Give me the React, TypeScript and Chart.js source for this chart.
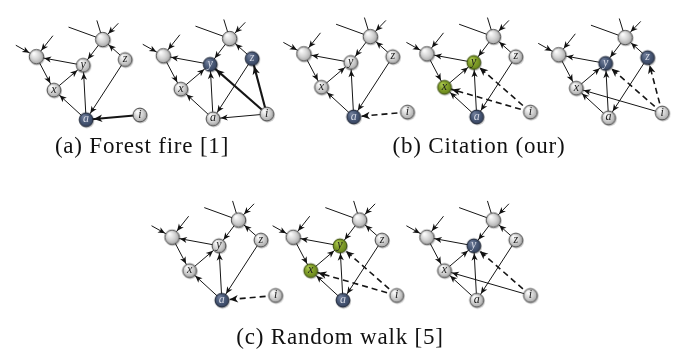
import React, { useEffect, useRef } from "react";
import { Chart, registerables } from "chart.js";

Chart.register(...registerables);

const W = 680;
const H = 356;

// ---- template graph (positions as drawn in panel (a), left copy) ----
const nodeNames = ["p", "q", "y", "z", "x", "a", "i"];
const nodeLabels = ["", "", "y", "z", "x", "a", "i"];
const nodeX = [29, 97, 77, 120, 47, 80, 135];
const nodeY = [51, 33, 60, 54, 86, 117, 112];

// dangling in-edges (start points without a node)
const stubX = [8, 46, 62, 91, 113];
const stubY = [39, 29, 20, 13, 16];
const stubTarget = ["p", "p", "q", "q", "q"];
const stubArrow = [true, true, false, false, true];

// edges shared by every copy
const baseFrom = ["y", "p", "x", "q", "z", "a", "a", "z"];
const baseTo = ["p", "x", "y", "y", "q", "x", "y", "a"];

// ---- the eight copies ----
const panelDX = [0, 130, 274, 400, 535, 139, 263, 400];
const panelDY = [0, -1, -3, -3, -2, 189, 189, 189];
const blueNodes = [["a"], ["y", "z"], ["a"], ["a"], ["y", "z"], ["a"], ["a"], ["y"]];
const greenNodes = [[], [], [], ["x", "y"], [], [], ["x", "y"], []];
// edges leaving the new node i
const extraTo = [["a"], ["a", "y", "z"], ["a"], ["x", "y"], ["x", "y", "z"], ["a"], ["x", "y"], ["x", "y"]];
const extraKind = [
  ["thick"],
  ["solid", "thick", "thick"],
  ["dash"],
  ["dash", "dash"],
  ["solid", "dash", "dash"],
  ["dash"],
  ["dash", "dash"],
  ["solid", "dash"],
];

// ---- captions ----
const captions = ["(a) Forest fire [1]", "(b) Citation (our)", "(c) Random walk [5]"];
const captionCX = [142, 479, 340];
const captionCY = [146, 146, 337];

function sphere(r: number, kind: string): HTMLCanvasElement {
  const s = Math.ceil(2 * r + 5);
  const c = document.createElement("canvas");
  c.width = s;
  c.height = s;
  const g = c.getContext("2d")!;
  const cx = s / 2;
  const cy = s / 2;
  g.beginPath();
  g.arc(cx + 0.8, cy + 1.1, r, 0, Math.PI * 2);
  g.fillStyle = "rgba(0,0,0,0.22)";
  g.fill();
  const grad = g.createRadialGradient(cx - r * 0.35, cy - r * 0.45, r * 0.1, cx, cy, r);
  let border = "#4a4a4a";
  if (kind === "blue") {
    grad.addColorStop(0, "#6f7c98");
    grad.addColorStop(0.55, "#4a5a78");
    grad.addColorStop(1, "#34415c");
    border = "#1e2636";
  } else if (kind === "green") {
    grad.addColorStop(0, "#a9c64e");
    grad.addColorStop(0.55, "#809d28");
    grad.addColorStop(1, "#62801a");
    border = "#3a4c0e";
  } else {
    grad.addColorStop(0, "#fbfbfb");
    grad.addColorStop(0.55, "#d2d2d2");
    grad.addColorStop(1, "#a2a2a2");
  }
  g.beginPath();
  g.arc(cx, cy, r - 0.5, 0, Math.PI * 2);
  g.fillStyle = grad;
  g.fill();
  g.lineWidth = 1;
  g.strokeStyle = border;
  g.stroke();
  return c;
}

const arrowPlugin = {
  id: "arrowHeads",
  afterDatasetsDraw(chart: any) {
    const ctx = chart.ctx;
    chart.data.datasets.forEach((ds: any, i: number) => {
      const meta = chart.getDatasetMeta(i);
      if (ds.arrowSize) {
        const p0 = meta.data[0];
        const p1 = meta.data[1];
        const dx = p1.x - p0.x;
        const dy = p1.y - p0.y;
        const len = Math.hypot(dx, dy);
        const ux = dx / len;
        const uy = dy / len;
        const tx = p1.x - ux * (ds.targetR + 0.3);
        const ty = p1.y - uy * (ds.targetR + 0.3);
        const L = ds.arrowSize;
        const w = L * 0.44;
        ctx.save();
        ctx.beginPath();
        ctx.moveTo(tx, ty);
        ctx.lineTo(tx - ux * L - uy * w, ty - uy * L + ux * w);
        ctx.lineTo(tx - ux * L * 0.72, ty - uy * L * 0.72);
        ctx.lineTo(tx - ux * L + uy * w, ty - uy * L - ux * w);
        ctx.closePath();
        ctx.fillStyle = "#111";
        ctx.fill();
        ctx.restore();
      }
      if (ds.nodeLabels) {
        ctx.save();
        ctx.textAlign = "center";
        ctx.textBaseline = "middle";
        ctx.font = "italic 12px 'Liberation Serif', serif";
        meta.data.forEach((el: any, j: number) => {
          const t = ds.nodeLabels[j];
          if (!t) return;
          ctx.fillStyle = ds.labelColors[j];
          ctx.fillText(t, el.x, el.y - 0.5);
        });
        ctx.restore();
      }
    });
  },
};

export default function App() {
  const ref = useRef<HTMLCanvasElement | null>(null);

  useEffect(() => {
    if (!ref.current) return;
    const imgs: Record<string, HTMLCanvasElement> = {
      grayBig: sphere(7.7, "gray"),
      gray: sphere(7.4, "gray"),
      blue: sphere(7.4, "blue"),
      green: sphere(7.4, "green"),
    };
    const datasets: any[] = [];
    const nodePts: any[] = [];
    const nodeStyles: any[] = [];
    const labels: string[] = [];
    const labelColors: string[] = [];

    panelDX.forEach((dx, k) => {
      const dy = panelDY[k];
      const pos = (n: string) => {
        const j = nodeNames.indexOf(n);
        return { x: nodeX[j] + dx, y: nodeY[j] + dy };
      };
      const rad = (n: string) => (n === "p" || n === "q" ? 7.7 : 7.4);
      const edge = (a: any, b: any, kind: string, arrow: boolean, r: number) => {
        datasets.push({
          data: [a, b],
          showLine: true,
          borderColor: "#151515",
          borderWidth: kind === "thick" ? 2.1 : kind === "dash" ? 1.6 : 1,
          borderDash: kind === "dash" ? [6, 4] : [],
          pointRadius: 0,
          clip: false,
          order: 2,
          arrowSize: arrow ? (kind === "solid" ? 7 : 8.5) : 0,
          targetR: r,
        });
      };
      stubX.forEach((sx, s) => {
        edge({ x: sx + dx, y: stubY[s] + dy }, pos(stubTarget[s]), "solid", stubArrow[s], rad(stubTarget[s]));
      });
      baseFrom.forEach((f, e) => {
        edge(pos(f), pos(baseTo[e]), "solid", true, rad(baseTo[e]));
      });
      extraTo[k].forEach((t, e) => {
        edge(pos("i"), pos(t), extraKind[k][e], true, rad(t));
      });
      nodeNames.forEach((n, j) => {
        nodePts.push(pos(n));
        let kind = n === "p" || n === "q" ? "grayBig" : "gray";
        if (blueNodes[k].includes(n)) kind = "blue";
        if (greenNodes[k].includes(n)) kind = "green";
        nodeStyles.push(imgs[kind]);
        labels.push(nodeLabels[j]);
        labelColors.push(kind === "blue" ? "#d4d8e4" : "#1a1a1a");
      });
    });

    datasets.push({
      data: nodePts,
      pointStyle: nodeStyles,
      pointRadius: 7,
      showLine: false,
      clip: false,
      order: 0,
      nodeLabels: labels,
      labelColors,
    });

    const chart = new Chart(ref.current, {
      type: "scatter",
      data: { datasets },
      options: {
        animation: false,
        responsive: false,
        maintainAspectRatio: false,
        devicePixelRatio: 1,
        events: [],
        layout: { padding: 0 },
        plugins: { legend: { display: false }, tooltip: { enabled: false } },
        scales: {
          x: { type: "linear", min: 0, max: W, display: false },
          y: { type: "linear", min: 0, max: H, reverse: true, display: false },
        },
      },
      plugins: [arrowPlugin],
    } as any);
    return () => chart.destroy();
  }, []);

  return (
    <div style={{ position: "fixed", left: 0, top: 0, width: W, height: H, background: "#fff" }}>
      <canvas ref={ref} width={W} height={H} style={{ display: "block", width: W, height: H }} />
      {captions.map((c, k) => (
        <div
          key={c}
          style={{
            position: "absolute",
            left: captionCX[k] - 150,
            width: 300,
            top: captionCY[k] - 12,
            height: 24,
            lineHeight: "24px",
            textAlign: "center",
            fontFamily: "'Liberation Serif', serif",
            fontSize: 23,
            letterSpacing: "0.8px",
            color: "#111",
            whiteSpace: "nowrap",
          }}
        >
          {c}
        </div>
      ))}
    </div>
  );
}
